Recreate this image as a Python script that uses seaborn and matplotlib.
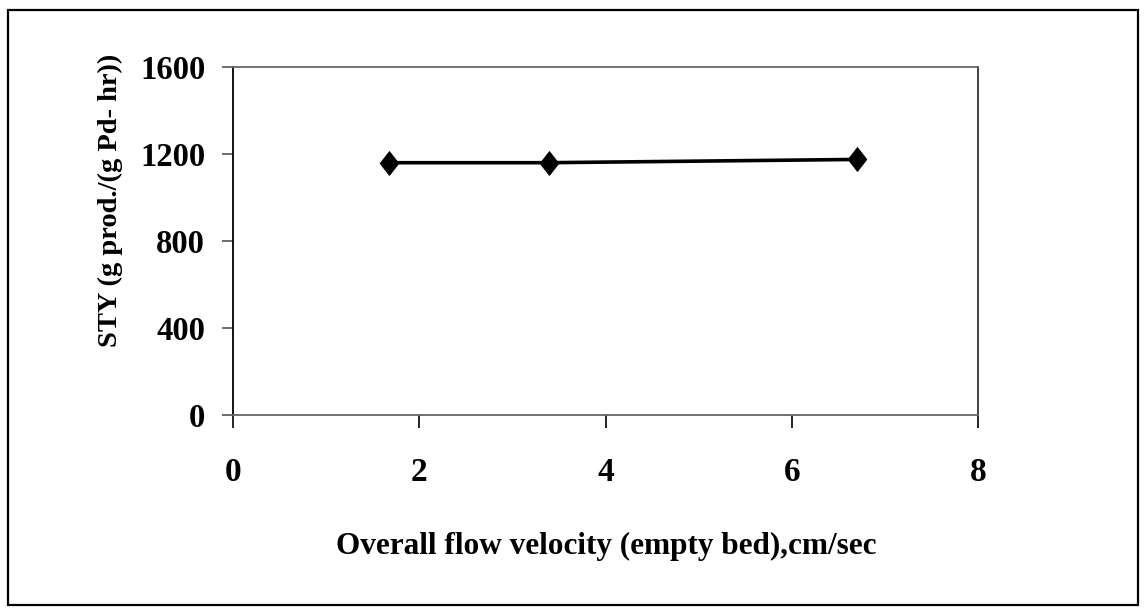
import matplotlib
matplotlib.use("Agg")
import matplotlib.pyplot as plt
from matplotlib.patches import Rectangle
from matplotlib.path import Path
import pandas as pd
import seaborn as sns

# Space-time yield versus superficial flow velocity
velocity = [1.68, 3.39, 6.7]
sty = [1160, 1160, 1175]
x_ticks = [0, 2, 4, 6, 8]
y_ticks = [0, 400, 800, 1200, 1600]

df = pd.DataFrame({"velocity": velocity, "sty": sty})

sns.set_theme(style="white")
plt.rcParams["font.family"] = ["Liberation Serif", "DejaVu Serif"]
plt.rcParams["font.weight"] = "bold"
plt.rcParams["text.color"] = "black"
plt.rcParams["xtick.color"] = "black"
plt.rcParams["ytick.color"] = "black"

W, H = 1146, 611
fig = plt.figure(figsize=(W / 100, H / 100), dpi=100)
ax = fig.add_axes([233 / W, 1 - 415 / H, (978 - 233) / W, (415 - 67) / H])

diamond = Path([(-0.78, 0), (0, 1), (0.78, 0), (0, -1), (-0.78, 0)],
               [Path.MOVETO, Path.LINETO, Path.LINETO, Path.LINETO, Path.CLOSEPOLY])

sns.lineplot(data=df, x="velocity", y="sty", ax=ax, color="black",
             linewidth=2.6, marker=diamond, markersize=17,
             markerfacecolor="black", markeredgecolor="black")

ax.set_xlim(0, 8)
ax.set_ylim(0, 1600)
ax.set_xticks(x_ticks)
ax.set_yticks(y_ticks)
ax.set_xticklabels([str(v) for v in x_ticks], fontsize=24, fontweight="bold",
                   color="black")
ax.set_yticklabels([str(v) for v in y_ticks], fontsize=23.5, fontweight="bold",
                   color="black")
ax.tick_params(axis="x", direction="out", length=9, width=1.2, color="black",
               labelcolor="black", pad=21, bottom=True)
ax.tick_params(axis="y", direction="out", length=8, width=1.2, color="#555555",
               labelcolor="black", pad=12, left=True)
ax.set_xlabel("")
ax.set_ylabel("")

for side, col in [("left", "black"), ("right", "#333333"),
                  ("top", "#666666"), ("bottom", "#666666")]:
    ax.spines[side].set_visible(True)
    ax.spines[side].set_color(col)
    ax.spines[side].set_linewidth(1.3)

fig.text(606 / W, 1 - 546 / H, "Overall flow velocity (empty bed),cm/sec",
         ha="center", va="center", fontsize=22.5, fontweight="bold", color="black")
fig.text(110 / W, 1 - 200 / H, "STY (g prod./(g Pd- hr))",
         ha="center", va="center", rotation=90, fontsize=20.5, fontweight="bold",
         color="black")

fig.patches.append(Rectangle((8 / W, 1 - 605 / H), (1138 - 8) / W, (605 - 10) / H,
                             transform=fig.transFigure, fill=False,
                             edgecolor="black", linewidth=1.6))

fig.savefig("out.png", dpi=100, facecolor="white")
